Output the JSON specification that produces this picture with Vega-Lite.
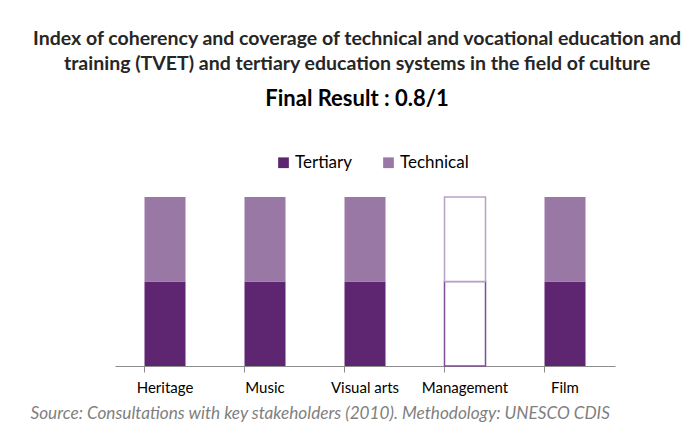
{
  "$schema": "https://vega.github.io/schema/vega-lite/v6.json",
  "width": 500,
  "height": 169,
  "autosize": {"type": "none"},
  "padding": {"left": 115, "top": 197, "right": 72, "bottom": 64},
  "background": "white",
  "title": {
    "text": ["Index of coherency and coverage of technical and vocational education and", "training (TVET) and tertiary education systems in the field of culture"],
    "subtitle": "Final Result : 0.8/1",
    "anchor": "middle",
    "dx": -8,
    "offset": 43,
    "font": "Lato",
    "fontSize": 19.5,
    "fontWeight": "bold",
    "color": "#262626",
    "lineHeight": 25,
    "subtitleFont": "Lato",
    "subtitleFontSize": 22,
    "subtitleFontWeight": "bold",
    "subtitleColor": "#000000",
    "subtitlePadding": 15
  },
  "data": {
    "values": [
      {"category": "Heritage", "type": "Tertiary", "value": 0.5, "achieved": true},
      {"category": "Heritage", "type": "Technical", "value": 0.5, "achieved": true},
      {"category": "Music", "type": "Tertiary", "value": 0.5, "achieved": true},
      {"category": "Music", "type": "Technical", "value": 0.5, "achieved": true},
      {"category": "Visual arts", "type": "Tertiary", "value": 0.5, "achieved": true},
      {"category": "Visual arts", "type": "Technical", "value": 0.5, "achieved": true},
      {"category": "Management", "type": "Tertiary", "value": 0.5, "achieved": false},
      {"category": "Management", "type": "Technical", "value": 0.5, "achieved": false},
      {"category": "Film", "type": "Tertiary", "value": 0.5, "achieved": true},
      {"category": "Film", "type": "Technical", "value": 0.5, "achieved": true}
    ]
  },
  "encoding": {
    "x": {
      "field": "category",
      "type": "nominal",
      "sort": ["Heritage", "Music", "Visual arts", "Management", "Film"],
      "scale": {"paddingInner": 0.59, "paddingOuter": 0.295},
      "axis": {
        "title": "Source: Consultations with key stakeholders (2010). Methodology: UNESCO CDIS",
        "titleFont": "Lato",
        "titleFontStyle": "italic",
        "titleFontWeight": "normal",
        "titleFontSize": 17.2,
        "titleColor": "#7f7f7f",
        "titleAnchor": "start",
        "titleAlign": "left",
        "titleBaseline": "alphabetic",
        "titleX": -85,
        "titleY": 52,
        "labelAngle": 0,
        "labelFont": "Lato",
        "labelFontSize": 15,
        "labelColor": "#000000",
        "labelPadding": 8,
        "bandPosition": 0,
        "ticks": true,
        "tickSize": 6,
        "tickColor": "#8c8c8c",
        "domainColor": "#8c8c8c",
        "grid": false
      }
    },
    "y": {
      "field": "value",
      "type": "quantitative",
      "stack": "zero",
      "scale": {"domain": [0, 1]},
      "axis": null
    },
    "order": {"field": "type", "sort": "descending"}
  },
  "layer": [
    {
      "transform": [{"filter": "datum.achieved"}],
      "mark": {"type": "bar"},
      "encoding": {
        "color": {
          "field": "type",
          "type": "nominal",
          "scale": {"domain": ["Tertiary", "Technical"], "range": ["#5e2670", "#9a78a6"]},
          "legend": {
            "title": null,
            "orient": "none",
            "legendX": 160,
            "legendY": -43,
            "direction": "horizontal",
            "symbolType": "square",
            "symbolSize": 115,
            "symbolStrokeWidth": 0,
            "labelFont": "Lato",
            "labelFontSize": 17,
            "labelColor": "#000000",
            "columnPadding": 27,
            "labelOffset": 3
          }
        }
      }
    },
    {
      "transform": [{"filter": "!datum.achieved"}],
      "mark": {"type": "bar", "fill": "white", "strokeWidth": 1.5},
      "encoding": {
        "stroke": {
          "field": "type",
          "type": "nominal",
          "scale": {"domain": ["Tertiary", "Technical"], "range": ["#7e4f93", "#b9a1c6"]},
          "legend": null
        }
      }
    }
  ],
  "config": {
    "view": {"stroke": null}
  }
}
